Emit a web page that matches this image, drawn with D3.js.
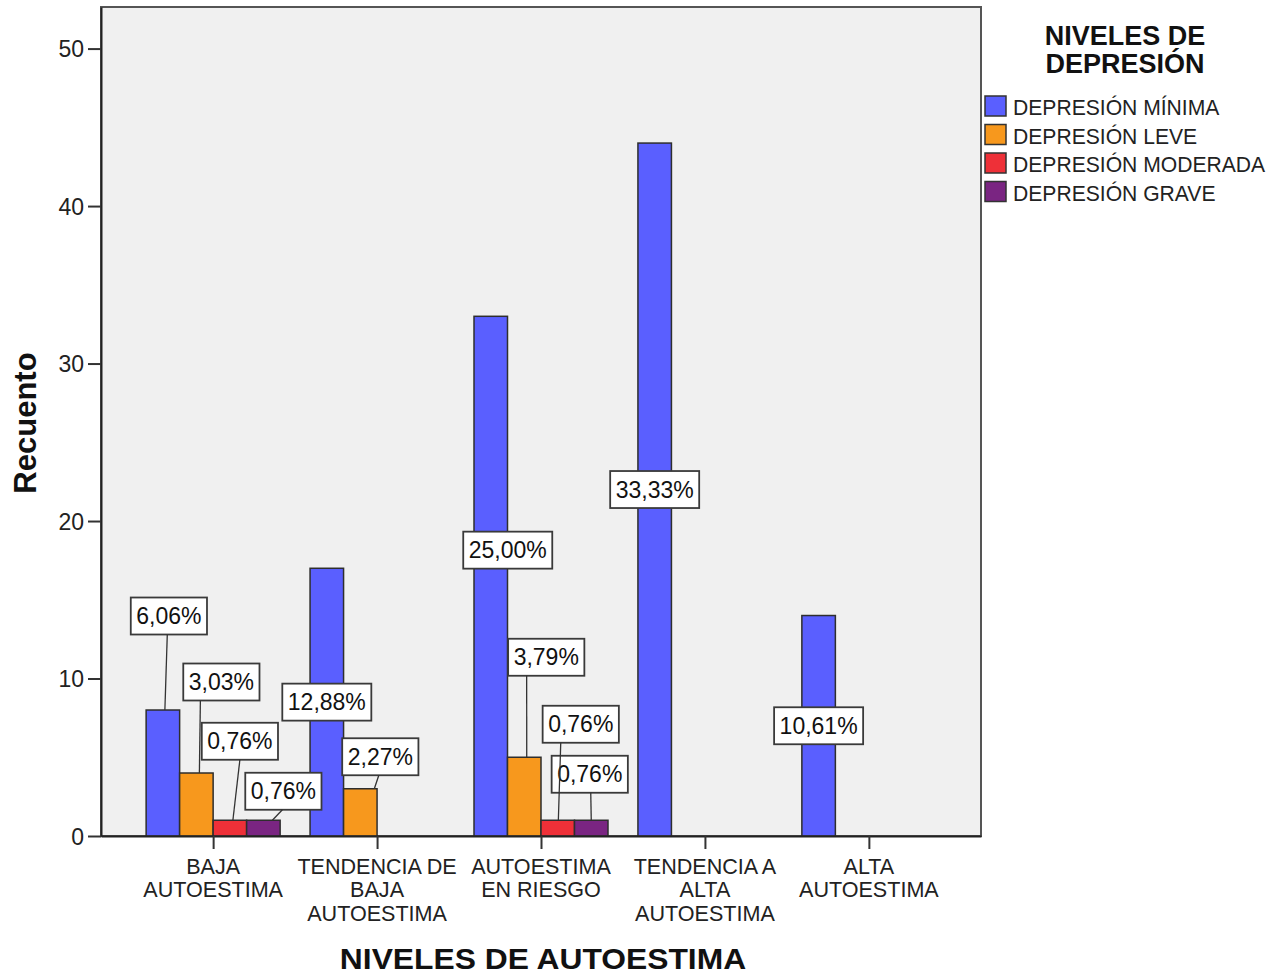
<!DOCTYPE html>
<html>
<head>
<meta charset="utf-8">
<script src="https://cdn.jsdelivr.net/npm/d3@7"></script>
<style>
  html, body { margin: 0; padding: 0; background: #ffffff; }
  svg { display: block; font-family: "Liberation Sans", Arial, sans-serif; }
</style>
</head>
<body>
<svg id="chart" width="1282" height="978"></svg>
<script>
// Counts per self-esteem level, one array per depression level
const categories = ["BAJA AUTOESTIMA", "TENDENCIA DE BAJA AUTOESTIMA", "AUTOESTIMA EN RIESGO", "TENDENCIA A ALTA AUTOESTIMA", "ALTA AUTOESTIMA"];
const categoryLines = [["BAJA", "AUTOESTIMA"], ["TENDENCIA DE", "BAJA", "AUTOESTIMA"], ["AUTOESTIMA", "EN RIESGO"], ["TENDENCIA A", "ALTA", "AUTOESTIMA"], ["ALTA", "AUTOESTIMA"]];
const seriesNames = ["DEPRESIÓN MÍNIMA", "DEPRESIÓN LEVE", "DEPRESIÓN MODERADA", "DEPRESIÓN GRAVE"];
const depresionMinima   = [8, 17, 33, 44, 14];
const depresionLeve     = [4, 3, 5, 0, 0];
const depresionModerada = [1, 0, 1, 0, 0];
const depresionGrave    = [1, 0, 1, 0, 0];
const yTicks = [0, 10, 20, 30, 40, 50];
const yMax = 52.64;

const seriesValues = [depresionMinima, depresionLeve, depresionModerada, depresionGrave];
const seriesColors = ["#5a5fff", "#f7981d", "#ee3038", "#7a2582"];
const total = d3.sum(seriesValues, s => d3.sum(s));

// Callout placement (pixel offsets from the bar top, or from the bar middle for inside labels)
const callouts = [
  { cat: 0, s: 0, dx: 6,    dy: -94,  lx: -1.6, ex: 2 },
  { cat: 0, s: 1, dx: 25,   dy: -91,  lx: -21,  ex: 3 },
  { cat: 0, s: 2, dx: 10,   dy: -79,  lx: 0,    ex: 3 },
  { cat: 0, s: 3, dx: 20,   dy: -29,  lx: -1,   ex: 9 },
  { cat: 1, s: 0, inside: true, dx: 0, dy: 0 },
  { cat: 1, s: 1, dx: 20,   dy: -32,  lx: -1.5, ex: 14 },
  { cat: 2, s: 0, inside: true, dx: 17, dy: -26 },
  { cat: 2, s: 1, dx: 22,   dy: -100, lx: -19.6, ex: 2.5 },
  { cat: 2, s: 2, dx: 23,   dy: -96,  lx: -20,  ex: 0.6 },
  { cat: 2, s: 3, dx: -1.5, dy: -46,  lx: 1,    ex: 0 },
  { cat: 3, s: 0, inside: true, dx: 0, dy: 0 },
  { cat: 4, s: 0, inside: true, dx: 0, dy: 0 }
];

const svg = d3.select("#chart");
const plot = { left: 101, right: 981, top: 7, bottom: 836 };

const x = d3.scalePoint().domain(categories).range([plot.left, plot.right]).padding(0.684);
const xSub = d3.scaleBand().domain(d3.range(seriesNames.length)).range([-67, 67]);
const y = d3.scaleLinear().domain([0, yMax]).range([plot.bottom, plot.top]);

// Plot background and frame
svg.append("rect")
  .attr("x", plot.left).attr("y", plot.top)
  .attr("width", plot.right - plot.left).attr("height", plot.bottom - plot.top)
  .attr("fill", "#f0f0f0").attr("stroke", "#555").attr("stroke-width", 2);

// Bars
const bars = [];
seriesValues.forEach((vals, s) => {
  vals.forEach((v, c) => { if (v > 0) bars.push({ s, c, v }); });
});
svg.append("g").selectAll("rect").data(bars).join("rect")
  .attr("x", d => x(categories[d.c]) + xSub(d.s))
  .attr("y", d => y(d.v))
  .attr("width", xSub.bandwidth())
  .attr("height", d => y(0) - y(d.v))
  .attr("fill", d => seriesColors[d.s])
  .attr("stroke", "#2e2e2e").attr("stroke-width", 1.5);

// Axes
const yAxis = svg.append("g").attr("transform", `translate(${plot.left},0)`)
  .call(d3.axisLeft(y).tickValues(yTicks).tickSize(13).tickSizeOuter(0).tickPadding(4).tickFormat(d3.format("d")));
yAxis.select(".domain").attr("stroke", "#222").attr("stroke-width", 2);
yAxis.selectAll(".tick line").attr("stroke", "#333").attr("stroke-width", 2);
yAxis.selectAll(".tick text").attr("font-size", 23).attr("fill", "#222")
  .attr("font-family", "Liberation Sans, Arial, sans-serif").attr("dy", "0.35em");

const xAxis = svg.append("g").attr("transform", `translate(0,${plot.bottom})`)
  .call(d3.axisBottom(x).tickSize(13).tickSizeOuter(0).tickFormat(""));
xAxis.select(".domain").attr("stroke", "#222").attr("stroke-width", 2);
xAxis.selectAll(".tick line").attr("stroke", "#333").attr("stroke-width", 2);

// Multi-line category labels
const catLabels = svg.append("g");
categories.forEach((c, i) => {
  categoryLines[i].forEach((line, j) => {
    catLabels.append("text")
      .attr("transform", `translate(${x(c)},${874 + j * 23.3}) scale(0.98,1)`)
      .attr("text-anchor", "middle")
      .attr("font-size", 22).attr("fill", "#222")
      .text(line);
  });
});

// Axis titles
svg.append("text")
  .attr("transform", `translate(${(plot.left + plot.right) / 2 + 2},969) scale(1.06,1)`)
  .attr("text-anchor", "middle").attr("font-size", 30).attr("font-weight", "bold").attr("fill", "#111")
  .text("NIVELES DE AUTOESTIMA");
svg.append("text")
  .attr("transform", "translate(36,423) rotate(-90)")
  .attr("text-anchor", "middle").attr("font-size", 31).attr("font-weight", "bold").attr("fill", "#111")
  .text("Recuento");

// Percentage callouts
const fmt = v => (v / total * 100).toFixed(2).replace(".", ",") + "%";
const boxH = 37;
const calloutG = svg.append("g");
const lineG = svg.append("g");
callouts.forEach(co => {
  const v = seriesValues[co.s][co.cat];
  const bx = x(categories[co.cat]) + xSub(co.s) + xSub.bandwidth() / 2;
  const by = y(v);
  const cx = bx + co.dx;
  const cy = co.inside ? (y(v) + y(0)) / 2 + co.dy : by + co.dy;
  const g = calloutG.append("g");
  const t = g.append("text")
    .attr("x", cx).attr("y", cy + 8)
    .attr("text-anchor", "middle").attr("font-size", 23).attr("fill", "#111")
    .text(fmt(v));
  const w = t.node().getComputedTextLength() + 11;
  g.insert("rect", "text")
    .attr("x", cx - w / 2).attr("y", cy - boxH / 2)
    .attr("width", w).attr("height", boxH)
    .attr("fill", "#ffffff").attr("stroke", "#3a3a3a").attr("stroke-width", 1.8);
  if (!co.inside) {
    lineG.append("line")
      .attr("x1", cx + co.lx).attr("y1", cy + boxH / 2)
      .attr("x2", bx + co.ex).attr("y2", by)
      .attr("stroke", "#333").attr("stroke-width", 1.3);
  }
});

// Legend
const legend = svg.append("g");
legend.append("text")
  .attr("x", 1125).attr("y", 45).attr("text-anchor", "middle")
  .attr("font-size", 27).attr("font-weight", "bold").attr("fill", "#111")
  .text("NIVELES DE");
legend.append("text")
  .attr("x", 1125).attr("y", 73).attr("text-anchor", "middle")
  .attr("font-size", 27).attr("font-weight", "bold").attr("fill", "#111")
  .text("DEPRESIÓN");
seriesNames.forEach((name, i) => {
  legend.append("rect")
    .attr("x", 985).attr("y", 96 + i * 28.5)
    .attr("width", 21).attr("height", 20)
    .attr("fill", seriesColors[i]).attr("stroke", "#333").attr("stroke-width", 1.5);
  legend.append("text")
    .attr("transform", `translate(1013,${115 + i * 28.5}) scale(0.96,1)`)
    .attr("font-size", 22).attr("fill", "#222")
    .text(name);
});
</script>
</body>
</html>
